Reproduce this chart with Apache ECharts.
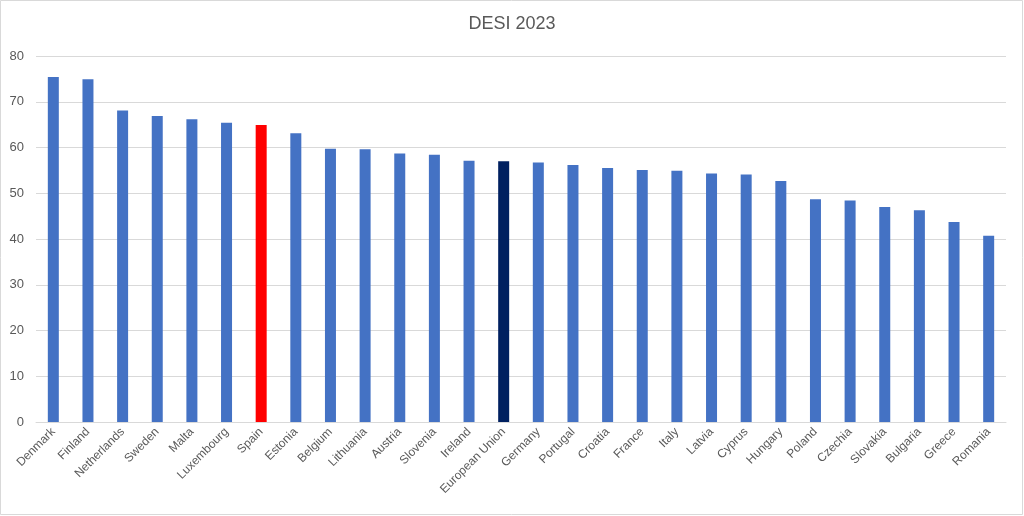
<!DOCTYPE html>
<html>
<head>
<meta charset="utf-8">
<script src="https://cdn.jsdelivr.net/npm/echarts@6/dist/echarts.min.js"></script>
<style>
html,body{margin:0;padding:0;background:#fff;}
#c{width:1024px;height:516px;}
</style>
</head>
<body>
<div id="c"></div>
<script>
const categories = ["Denmark","Finland","Netherlands","Sweden","Malta","Luxembourg","Spain","Estonia","Belgium","Lithuania","Austria","Slovenia","Ireland","European Union","Germany","Portugal","Croatia","France","Italy","Latvia","Cyprus","Hungary","Poland","Czechia","Slovakia","Bulgaria","Greece","Romania"];
const values = [75.4,74.9,68.1,66.9,66.2,65.4,64.9,63.1,59.7,59.6,58.7,58.4,57.1,57.0,56.7,56.2,55.5,55.1,54.9,54.3,54.1,52.7,48.7,48.4,47.0,46.3,43.7,40.7];
const yTicks = [0,10,20,30,40,50,60,70,80];
const highlight = {"Spain":"#FF0000","European Union":"#002060"};
const baseColor = "#4472C4";

const chart = echarts.init(document.getElementById('c'), null, {renderer:'canvas'});
const font = "'Liberation Sans', Arial, sans-serif";
chart.setOption({
  backgroundColor:'#fff',
  animation:false,
  title:{text:'DESI 2023', left:'center', top:10,
    textStyle:{fontFamily:font, fontSize:18, fontWeight:'normal', color:'#595959'}},
  graphic:[{type:'rect', shape:{x:0.5,y:0.5,width:1022,height:514}, style:{fill:'none', stroke:'#d9d9d9', lineWidth:1}, silent:true}],
  grid:{left:36, right:18, top:56, bottom:94},
  xAxis:{type:'category', data:categories,
    axisLine:{lineStyle:{color:'#d9d9d9'}}, axisTick:{show:false},
    axisLabel:{interval:0, rotate:45, fontFamily:font, fontSize:12, color:'#595959', margin:8}},
  yAxis:{type:'value', min:yTicks[0], max:yTicks[yTicks.length-1], interval:10,
    axisLine:{show:false}, axisTick:{show:false},
    splitLine:{lineStyle:{color:'#d9d9d9'}},
    axisLabel:{fontFamily:font, fontSize:13, color:'#595959', margin:12}},
  series:[{type:'bar', barWidth:11,
    data: values.map((v,i)=>({value:v, itemStyle:{color: highlight[categories[i]] || baseColor}}))}]
});
</script>
</body>
</html>
